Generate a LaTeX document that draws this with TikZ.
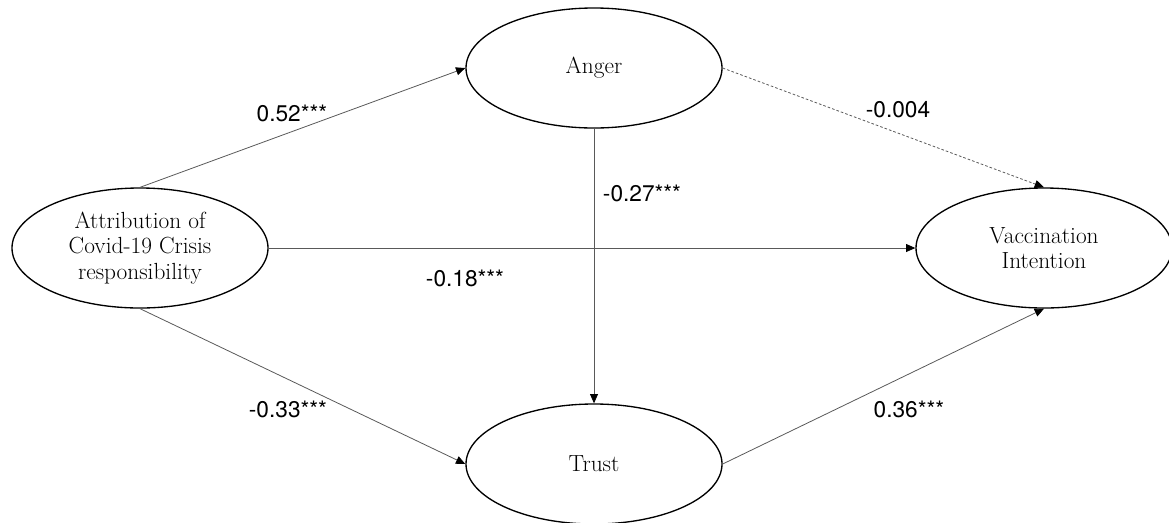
\documentclass[tikz,border=0pt]{standalone}
\usepackage{fontspec}
\newfontfamily\coeffont{TeX Gyre Heros}
\usetikzlibrary{arrows.meta,shapes.geometric}

\begin{document}
\begin{tikzpicture}[x=0.75pt,y=-0.75pt,>={Triangle[length=7pt,width=6pt,color=black]},
  construct/.style={draw,line width=1pt,ellipse,minimum width=192pt,minimum height=90pt,inner sep=0pt,align=center,font=\fontsize{17.5}{19}\selectfont},
  path/.style={->,gray!70!black,line width=0.6pt},
  coef/.style={font=\coeffont\fontsize{17}{19}\selectfont}]
\useasboundingbox (0,0) rectangle (1169,522);
% constructs
\node[construct] (attr) at (140,248) {Attribution of\\Covid-19 Crisis\\responsibility};
\node[construct] (anger) at (594,68) {Anger};
\node[construct] (trust) at (594,464) {Trust};
\node[construct] (vacc) at (1044,248) {Vaccination\\Intention};
% paths
\draw[path] (attr.north) -- (anger.west);
\draw[path] (attr.east) -- (vacc.west);
\draw[path] (attr.south) -- (trust.west);
\draw[path] (anger.south) -- (trust.north);
\draw[path,dash pattern=on 2pt off 1.5pt] (anger.east) -- (vacc.north);
\draw[path] (trust.east) -- (vacc.south);
% coefficients
\node[coef] (c1) at (292,113) {0.52***};
\node[coef] (c2) at (898,110) {-0.004};
\node[coef] (c3) at (642,193) {-0.27***};
\node[coef] (c4) at (465,278) {-0.18***};
\node[coef] (c5) at (288,409) {-0.33***};
\node[coef] (c6) at (909,409) {0.36***};
\end{tikzpicture}
\end{document}
